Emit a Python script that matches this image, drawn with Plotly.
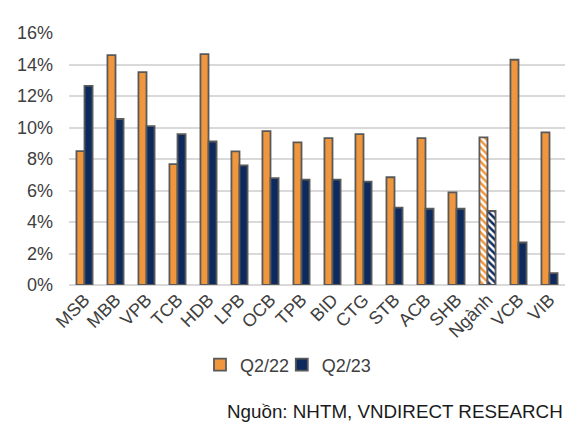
import plotly.graph_objects as go

banks = ['MSB', 'MBB', 'VPB', 'TCB', 'HDB', 'LPB', 'OCB', 'TPB', 'BID', 'CTG',
         'STB', 'ACB', 'SHB', 'Ngành', 'VCB', 'VIB']
q2_22 = [8.50, 14.60, 13.51, 7.67, 14.66, 8.48, 9.77, 9.05, 9.33, 9.58,
         6.84, 9.33, 5.88, 9.37, 14.30, 9.69]
q2_23 = [12.64, 10.54, 10.09, 9.58, 9.11, 7.60, 6.78, 6.69, 6.69, 6.56,
         4.91, 4.84, 4.84, 4.70, 2.70, 0.76]
y_ticks = [0, 2, 4, 6, 8, 10, 12, 14, 16]

ORANGE = '#F0963C'
NAVY = '#0D2A5E'
EDGE = '#595959'

# cột "Ngành" được tô sọc
shapes = ['\\' if b == 'Ngành' else '' for b in banks]

fig = go.Figure()
fig.add_trace(go.Bar(
    x=banks, y=q2_22, name='Q2/22', legend='legend',
    marker=dict(color=ORANGE, line=dict(color=EDGE, width=1.8),
                pattern=dict(shape=shapes, fillmode='replace', bgcolor='white',
                             size=5, solidity=0.5)),
))
fig.add_trace(go.Bar(
    x=banks, y=q2_23, name='Q2/23', legend='legend2',
    marker=dict(color=NAVY, line=dict(color=EDGE, width=1.8),
                pattern=dict(shape=shapes, fillmode='replace', bgcolor='white',
                             size=5, solidity=0.5)),
))

leg = dict(orientation='h', xref='container', yref='container',
           y=0.154, xanchor='left', yanchor='middle',
           font=dict(size=18), itemwidth=30, bgcolor='rgba(0,0,0,0)')

# trang có lề 8px nên hình nhỏ hơn cửa sổ 8px
fig.update_layout(
    width=568, height=422,
    margin=dict(l=61, r=11, t=25, b=145, autoexpand=False),
    paper_bgcolor='white', plot_bgcolor='white',
    barmode='group', bargap=0.48, bargroupgap=0,
    font=dict(family='Liberation Sans, Arial, sans-serif', size=18, color='#404040'),
    legend=dict(leg, x=0.338),
    legend2=dict(leg, x=0.482),
    showlegend=True,
)
fig.update_yaxes(range=[0, 16], tickvals=y_ticks,
                 ticktext=[f'{v}%' for v in y_ticks],
                 showgrid=True, gridcolor='#D9D9D9', gridwidth=1.5,
                 zeroline=True, zerolinecolor='#D9D9D9', zerolinewidth=1.5,
                 ticks='', ticklabelstandoff=15, showline=False, automargin=False)
fig.update_xaxes(tickangle=-45, showline=False, ticks='', showgrid=False,
                 automargin=False)

fig.add_annotation(text='Nguồn: NHTM, VNDIRECT RESEARCH',
                   xref='paper', yref='paper', x=1.0, y=-0.5,
                   xanchor='right', yanchor='middle', showarrow=False,
                   font=dict(size=18.8, color='#1A1A1A'))

fig.write_html('out.html')
